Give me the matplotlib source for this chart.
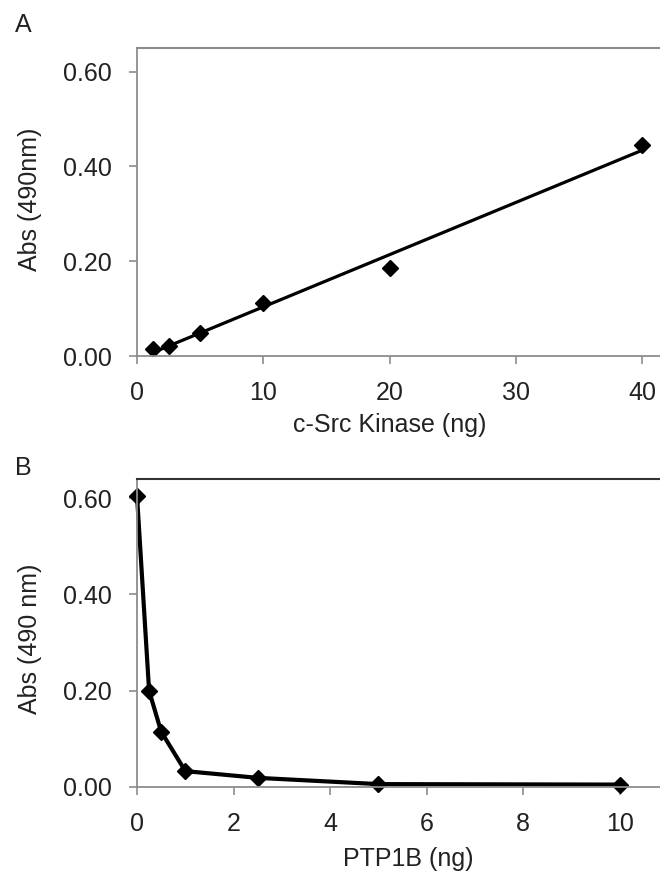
import numpy as np
import matplotlib
matplotlib.use("Agg")
import matplotlib.pyplot as plt

plt.rcParams['font.family'] = ['Liberation Sans', 'DejaVu Sans']

# Panel A: c-Src kinase titration
src_ng = [1.25, 2.5, 5, 10, 20, 40]
src_abs = [0.015, 0.021, 0.049, 0.112, 0.186, 0.446]

# Panel B: PTP1B titration
ptp_ng = [0, 0.25, 0.5, 1, 2.5, 5, 10]
ptp_abs = [0.605, 0.200, 0.115, 0.033, 0.019, 0.006, 0.005]

yticks = [0.0, 0.2, 0.4, 0.6]
ytick_labels = ['0.00', '0.20', '0.40', '0.60']

spine_gray = '#8c8c8c'
txt = '#222222'
fs = 18

fig = plt.figure(figsize=(6.6, 8.76), dpi=100)
axA = fig.add_axes([0.2076, 0.5936, 0.7924, 0.3516])
axB = fig.add_axes([0.2076, 0.1016, 0.7924, 0.3516])


def style(ax, top_color):
    ax.spines['right'].set_visible(False)
    for s in ['left', 'bottom']:
        ax.spines[s].set_color(spine_gray)
        ax.spines[s].set_linewidth(1.3)
    ax.spines['top'].set_color(top_color)
    ax.spines['top'].set_linewidth(1.5)
    ax.tick_params(direction='out', length=6, width=1.2, color=spine_gray,
                   labelsize=fs, labelcolor=txt, pad=12)
    ax.set_yticks(yticks)
    ax.set_yticklabels(ytick_labels)


# A
fit = np.polyfit(src_ng, src_abs, 1)
xfit = np.array([min(src_ng), max(src_ng)])
axA.plot(xfit, np.polyval(fit, xfit), color='black', lw=2.3)
axA.plot(src_ng, src_abs, 'D', color='black', ms=8)
axA.set_xlim(0, 41.4)
axA.set_ylim(0, 0.65)
axA.set_xticks([0, 10, 20, 30, 40])
style(axA, spine_gray)
axA.set_xlabel('c-Src Kinase (ng)', fontsize=fs, color=txt)
axA.set_ylabel('Abs (490nm)', fontsize=fs, color=txt)
axA.yaxis.set_label_coords(-0.182, 0.51)
axA.xaxis.set_label_coords(0.483, -0.185)
fig.text(0.023, 0.963, 'A', fontsize=fs, color=txt)

# B
axB.plot(ptp_ng, ptp_abs, '-D', color='black', lw=3, ms=8, clip_on=False)
axB.set_xlim(0, 10.83)
axB.set_ylim(0, 0.64)
axB.set_xticks([0, 2, 4, 6, 8, 10])
style(axB, '#333333')
axB.set_xlabel('PTP1B (ng)', fontsize=fs, color=txt)
axB.set_ylabel('Abs (490 nm)', fontsize=fs, color=txt)
axB.yaxis.set_label_coords(-0.182, 0.48)
axB.xaxis.set_label_coords(0.518, -0.195)
fig.text(0.023, 0.458, 'B', fontsize=fs, color=txt)

fig.savefig('out.png', dpi=100)
